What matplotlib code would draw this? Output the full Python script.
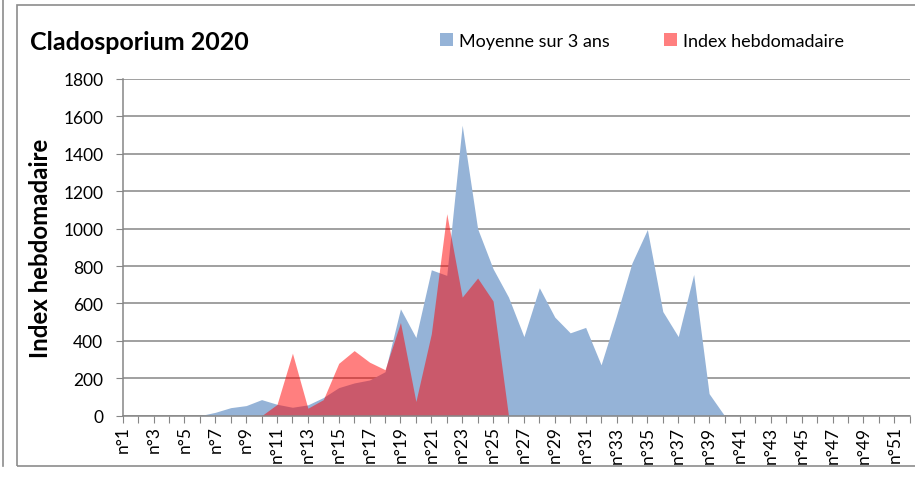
import numpy as np
import matplotlib
matplotlib.use("Agg")
import matplotlib.pyplot as plt
from matplotlib.patches import Patch, Rectangle
from matplotlib.lines import Line2D

plt.rcParams["font.family"] = ["Lato", "DejaVu Sans"]

# Weekly categories n°1 .. n°52
weeks = ["n°%d" % i for i in range(1, 53)]

# Moyenne sur 3 ans (blue area)
moyenne = [0, 0, 0, 0, 0, 0, 18, 43, 54, 86,
           61, 45, 58, 97, 150, 175, 191, 235, 571, 418,
           780, 750, 1553, 1000, 786, 634, 423, 684, 527, 443,
           472, 272, 536, 816, 995, 557, 423, 755, 118, 0,
           0, 0, 0, 0, 0, 0, 0, 0, 0, 0,
           0, 0]

# Index hebdomadaire 2020 (red area)
index_hebdo = [0, 0, 0, 0, 0, 0, 0, 0, 0, 0,
               60, 334, 40, 86, 280, 348, 286, 246, 498, 76,
               438, 1080, 634, 736, 613, 0, 0, 0, 0, 0,
               0, 0, 0, 0, 0, 0, 0, 0, 0, 0,
               0, 0, 0, 0, 0, 0, 0, 0, 0, 0,
               0, 0]

yticks = [0, 200, 400, 600, 800, 1000, 1200, 1400, 1600, 1800]

grey = "#868686"
blue = "#95B3D7"
red = "#FF0000"

fig = plt.figure(figsize=(9.15, 4.81), dpi=100)
ax = fig.add_axes([122.7 / 915, 1 - 416.7 / 481, 787 / 915, 336.7 / 481])

x = np.arange(1, len(weeks) + 1)
ax.fill_between(x, moyenne, color=blue, linewidth=0, zorder=2)
ax.fill_between(x, index_hebdo, color=red, alpha=0.5, linewidth=0, zorder=3)

ax.set_xlim(1, len(weeks))
ax.set_ylim(0, 1800)
ax.set_yticks(yticks)
ax.set_xticks(x)
ax.set_xticklabels([w if i % 2 == 0 else "" for i, w in enumerate(weeks)],
                   rotation=90, fontsize=12.5)
ax.tick_params(axis="x", length=5, color=grey, pad=2)
ax.tick_params(axis="y", length=5, color=grey, pad=9, labelsize=12.5)

ax.grid(axis="y", color=grey, linewidth=1.1, zorder=1)
ax.set_axisbelow(True)
for side in ["top", "right"]:
    ax.spines[side].set_visible(False)
for side in ["left", "bottom"]:
    ax.spines[side].set_color(grey)
    ax.spines[side].set_linewidth(1.1)
    ax.spines[side].set_zorder(4)

ax.set_ylabel("Index hebdomadaire", fontsize=17.3, fontweight="bold")
ax.yaxis.set_label_coords(-0.09, 0.5)

# Title and legend
fig.text(30 / 915, 1 - 42 / 481, "Cladosporium 2020", fontsize=18,
         fontweight="bold", va="center", ha="left")
handles = [Patch(facecolor=blue, edgecolor="none"),
           Patch(facecolor=red, alpha=0.5, edgecolor="none")]
fig.legend(handles, ["Moyenne sur 3 ans", "Index hebdomadaire"],
           loc="center left", bbox_to_anchor=(424 / 915, 1 - 42 / 481),
           ncol=2, frameon=False, fontsize=13, handlelength=0.7,
           handleheight=0.7, handletextpad=0.35, columnspacing=3.0)

# Chart frame
fig.add_artist(Rectangle((16.5 / 915, 1 - 467 / 481), 910 / 915, 461 / 481,
                         transform=fig.transFigure, fill=False,
                         edgecolor="#8c8c8c", linewidth=1.2))
fig.add_artist(Line2D([3 / 915, 3 / 915], [1 - 467 / 481, 1],
                      transform=fig.transFigure, color="#8c8c8c", linewidth=1.2))

plt.savefig("out.png", dpi=100)
